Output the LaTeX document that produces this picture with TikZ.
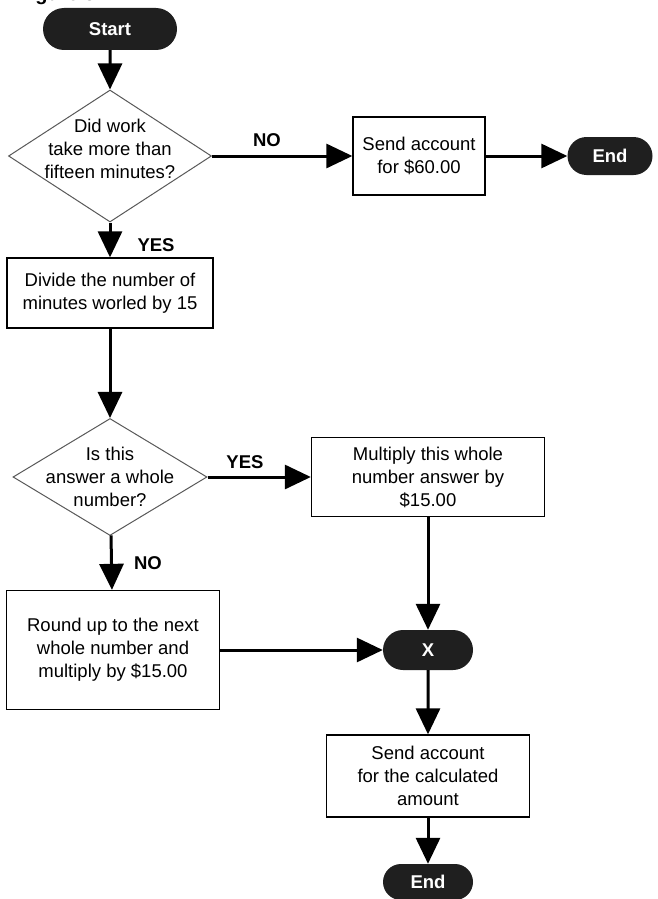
\documentclass[tikz,border=0pt]{standalone}
\usepackage{fontspec}
\setmainfont{Liberation Sans}
\usetikzlibrary{arrows.meta, positioning, shapes.geometric, shapes.misc}
\newcommand{\flowfont}{\fontsize{18.5}{23}\selectfont}
\tikzset{
    terminal/.style={rounded rectangle, fill=black!88, text=white, font=\flowfont\bfseries, inner sep=0pt},
    process/.style={rectangle, draw, line width=1.3pt, fill=white, align=center, font=\flowfont, inner sep=0pt},
    decision/.style={diamond, draw=black!65, line width=1pt, fill=white, inner sep=0pt},
    question/.style={align=center, font=\flowfont},
    choice/.style={font=\flowfont\bfseries},
    flow/.style={line width=3pt, -{Triangle[length=26pt, width=24pt]}},
}

\begin{document}
\begin{tikzpicture}[x=1pt, y=-1pt]
    \useasboundingbox (0,0) rectangle (657,899);
    \node[anchor=base west, font=\fontsize{20}{24}\selectfont\bfseries] (caption) at (14,1) {Figure 3};

    \node[terminal, minimum width=134pt, minimum height=42pt] (start) at (110,29) {Start};

    \node[decision, minimum width=203pt, minimum height=132pt] (q1) at (110,156) {};
    \node[question] (q1text) at (110,149) {Did work\\take more than\\fifteen minutes?};

    \node[process, minimum width=132pt, minimum height=78pt] (acct60) at (419,156) {Send account\\for \$60.00};
    \node[terminal, minimum width=85pt, minimum height=38pt] (end1) at (610,156) {End};

    \node[process, minimum width=206pt, minimum height=70pt] (divide) at (110,293) {Divide the number of\\minutes worled by 15};

    \node[decision, minimum width=194pt, minimum height=117pt] (q2) at (110,477) {};
    \node[question] (q2text) at (110,477) {Is this\\answer a whole\\number?};

    \node[process, minimum width=233pt, minimum height=79pt] (mult) at (428,477) {Multiply this whole\\number answer by\\\$15.00};
    \node[process, minimum width=213pt, minimum height=119pt] (roundup) at (113,650) {Round up to the next\\whole number and\\multiply by \$15.00};

    \node[terminal, minimum width=90pt, minimum height=40pt] (merge) at (428,650) {X};
    \node[process, minimum width=203pt, minimum height=82pt] (sendcalc) at (428,776) {Send account\\for the calculated\\amount};
    \node[terminal, minimum width=90pt, minimum height=36pt] (end2) at (428,882) {End};

    % answers
    \node[choice] (no1) at (267,140) {NO};
    \node[choice, anchor=west] (yes1) at (134,245) {YES};
    \node[choice] (yes2) at (245,462) {YES};
    \node[choice] (no2) at (148,563) {NO};

    \draw[flow] (start) -- (q1);
    \draw[flow] (q1) -- (acct60);
    \draw[flow] (acct60) -- (end1);
    \draw[flow] (q1) -- (divide);
    \draw[flow] (divide) -- (q2);
    \draw[flow] (q2) -- (mult);
    \draw[flow] (q2) -- (roundup);
    \draw[flow] (mult) -- (merge);
    \draw[flow] (roundup) -- (merge);
    \draw[flow] (merge) -- (sendcalc);
    \draw[flow] (sendcalc) -- (end2);
\end{tikzpicture}
\end{document}
